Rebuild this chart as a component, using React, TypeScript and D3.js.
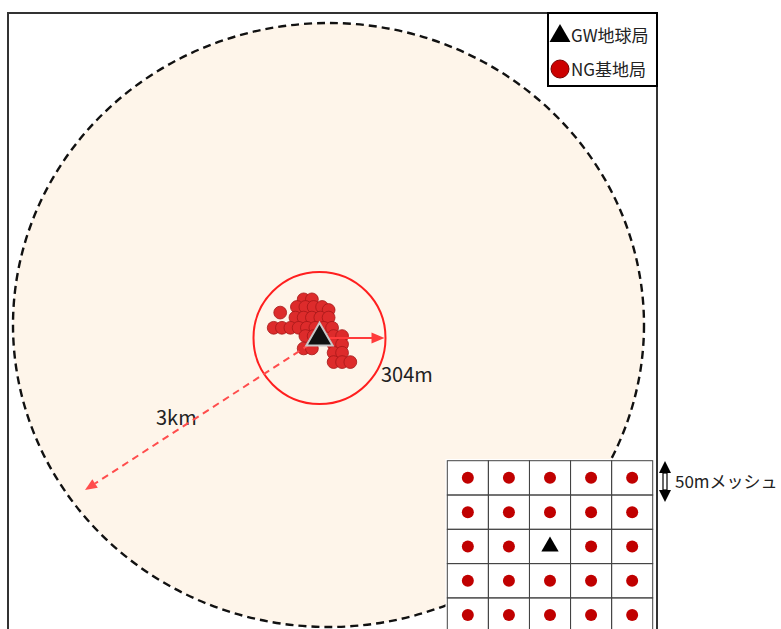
import React from "react";
import * as d3 from "d3";

// ---- data ----
// NG base stations, offsets from the GW earth station in metres (east +, south +)
const ngEast: number[] = [
  -73, -35,
  -104, -65, -27, 12, 42,
  -111, -73, -35, 4, 42,
  -181,
  -211, -173, -134, -96, -58, -19, 19, 58,
  -65, -27, 65, 104,
  -73, -35, 65, 104,
  65, 104,
  65, 104, 142,
];
const ngSouth: number[] = [
  -178, -178,
  -143, -143, -143, -143, -129,
  -94, -94, -94, -94, -94,
  -117,
  -47, -47, -47, -47, -47, -47, -47, -47,
  -9, -9, -9, -9,
  48, 48, 29, 29,
  68, 68,
  111, 111, 111,
];
const protectRadiusM = 304;
const labels = { inner: "304m", outer: "3km", mesh: "50mメッシュ" };
const legendLabels = ["GW地球局", "NG基地局"];
const meshCols = [0, 1, 2, 3, 4];
const meshRows = [0, 1, 2, 3, 4];
const gwCell = [2, 2];

const FONT = "'Noto Sans CJK JP', 'Noto Sans', sans-serif";

export default function App() {
  const W = 781, H = 629;
  // metre -> pixel scales around the GW station
  const gx = 319.5, gy = 338;
  const pxPerM = 66 / protectRadiusM;
  const x = d3.scaleLinear().domain([0, protectRadiusM]).range([gx, gx + protectRadiusM * pxPerM]);
  const y = d3.scaleLinear().domain([0, protectRadiusM]).range([gy, gy + protectRadiusM * pxPerM]);
  const rInner = x(protectRadiusM) - x(0);

  // 3 km zone (schematic ellipse)
  const zone = { cx: 328.5, cy: 325, rx: 315.5, ry: 302 };

  // mesh inset scales
  const mx = d3.scaleBand<number>().domain(meshCols).range([447.3, 652.7]).paddingInner(0).paddingOuter(0);
  const myStep = 34.3;
  const my = (r: number) => 460.7 + r * myStep;

  const tri = (size: number) => d3.symbol().type(d3.symbolTriangle).size(size)()!;

  const outerEnd = { x: 85, y: 490 };
  const ang = Math.atan2(outerEnd.y - gy, outerEnd.x - gx);
  const headLen = 12, headW = 5;
  const ohx = outerEnd.x - Math.cos(ang) * headLen, ohy = outerEnd.y - Math.sin(ang) * headLen;
  const px = -Math.sin(ang), py = Math.cos(ang);

  const innerTip = x(protectRadiusM) - 1;

  return (
    <svg width={W} height={H} style={{ position: "absolute", left: 0, top: 0, background: "#fff" }}>
      <rect x={0} y={0} width={W} height={H} fill="#fff" />
      {/* 3km zone */}
      <ellipse cx={zone.cx} cy={zone.cy} rx={zone.rx} ry={zone.ry} fill="#fef5ea" stroke="#111"
        strokeWidth={2.4} strokeDasharray="8 5" />
      <text x={156} y={425} fontFamily={FONT} fontSize={20} fill="#222">{labels.outer}</text>

      {/* protection circle */}
      <circle cx={x(0)} cy={y(0)} r={rInner} fill="none" stroke="#ff1f1f" strokeWidth={2} />

      {/* NG stations */}
      {ngEast.map((e, i) => (
        <circle key={i} cx={x(e)} cy={y(ngSouth[i])} r={6.4} fill="#dd2b2b" stroke="#a51818" strokeWidth={0.8} />
      ))}

      {/* 3km dashed arrow */}
      <line x1={gx} y1={gy} x2={ohx} y2={ohy} stroke="#ff4d4d" strokeWidth={2} strokeDasharray="7 5" />
      <path d={`M${outerEnd.x},${outerEnd.y} L${ohx + px * headW},${ohy + py * headW} L${ohx - px * headW},${ohy - py * headW} Z`} fill="#ff4d4d" />

      {/* 304m arrow */}
      <line x1={gx + 10} y1={gy} x2={innerTip - 12} y2={gy} stroke="#ff3b3b" strokeWidth={2} />
      <path d={`M${innerTip},${gy} L${innerTip - 13},${gy - 5.5} L${innerTip - 13},${gy + 5.5} Z`} fill="#ff3b3b" />
      <text x={381} y={382} fontFamily={FONT} fontSize={20} fill="#222">{labels.inner}</text>

      {/* GW station */}
      <path d={tri(300)} transform={`translate(${x(0)},${y(0)})`} fill="#111" stroke="#c8c8c8" strokeWidth={2} />

      {/* frame */}
      <path d={`M8,${H + 5} L8,13 L657,13 L657,${H + 5}`} fill="none" stroke="#333" strokeWidth={2} />

      {/* legend */}
      <rect x={548} y={13} width={109} height={73} fill="#fff" stroke="#000" strokeWidth={2} />
      <path d={tri(190)} transform="translate(560,36)" fill="#000" />
      <text x={571} y={42} fontFamily={FONT} fontSize={17} fill="#222">{legendLabels[0]}</text>
      <circle cx={560} cy={69} r={9} fill="#cc0000" stroke="#7a0000" strokeWidth={1} />
      <text x={571} y={76} fontFamily={FONT} fontSize={17} fill="#222">{legendLabels[1]}</text>

      {/* mesh inset */}
      <rect x={445.5} y={459} width={209} height={H - 459 + 5} fill="#fff" />
      {meshRows.map((r) =>
        meshCols.map((c) => (
          <rect key={`${r}-${c}`} x={mx(c)!} y={my(r)} width={mx.bandwidth()} height={myStep}
            fill="none" stroke="#444" strokeWidth={1} />
        ))
      )}
      {meshRows.map((r) =>
        meshCols.map((c) =>
          r === gwCell[0] && c === gwCell[1] ? (
            <path key={`p${r}-${c}`} d={tri(130)} transform={`translate(${mx(c)! + mx.bandwidth() / 2},${my(r) + myStep / 2})`} fill="#000" />
          ) : (
            <circle key={`p${r}-${c}`} cx={mx(c)! + mx.bandwidth() / 2} cy={my(r) + myStep / 2} r={6} fill="#c00000" />
          )
        )
      )}
      {/* 50m up-down arrow */}
      <g transform="translate(665,0)">
        <path d="M0,461 L6,473 L-6,473 Z" fill="#000" />
        <path d="M0,502 L6,490 L-6,490 Z" fill="#000" />
        <rect x={-2} y={473} width={4} height={17} fill="#fff" stroke="#000" strokeWidth={1.2} />
      </g>
      <text x={675} y={488} fontFamily={FONT} fontSize={17} fill="#222">{labels.mesh}</text>
    </svg>
  );
}
